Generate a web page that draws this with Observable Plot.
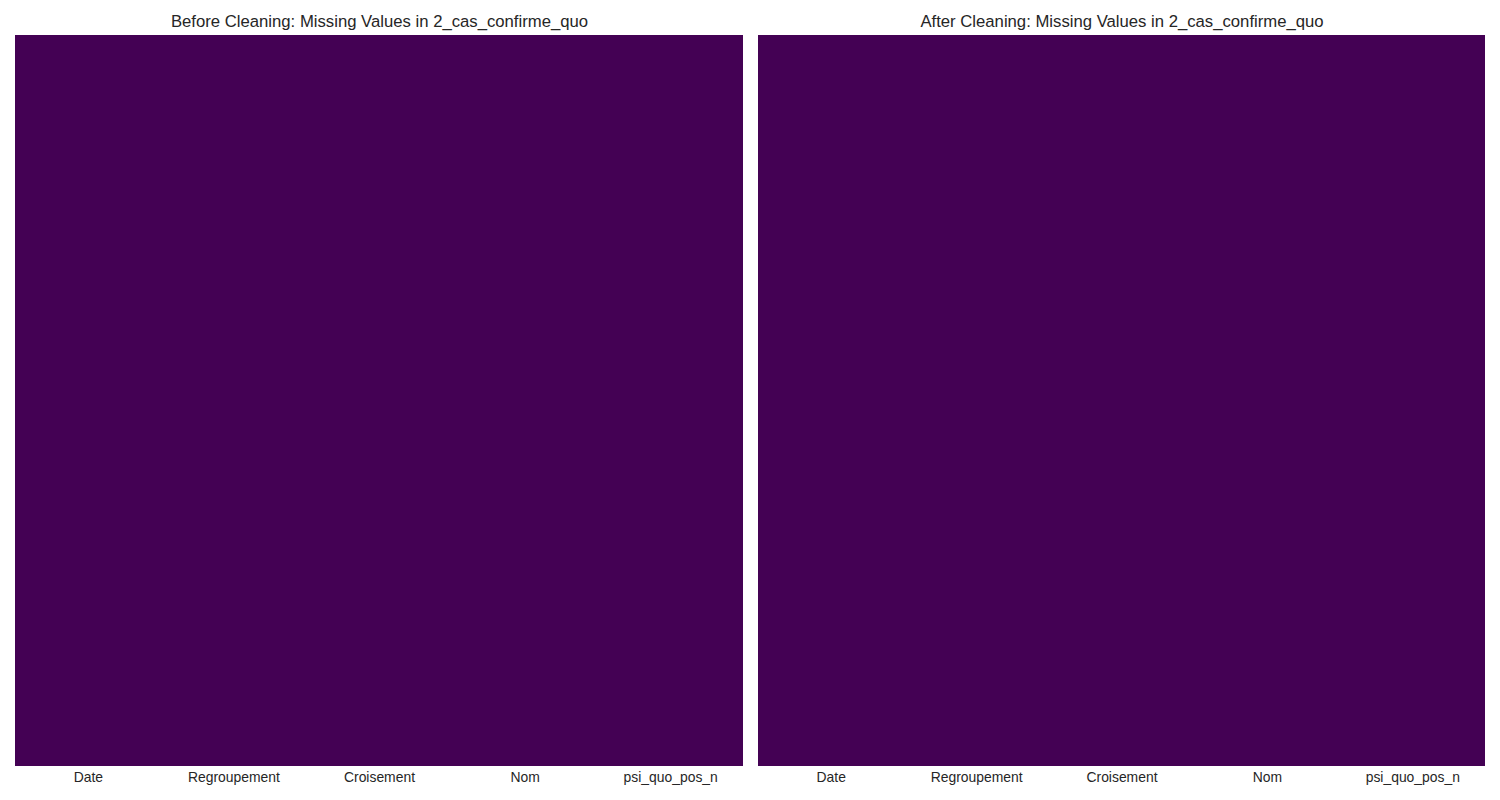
<!DOCTYPE html>
<html>
<head>
<meta charset="utf-8">
<script src="https://cdn.jsdelivr.net/npm/d3@7"></script>
<script src="https://cdn.jsdelivr.net/npm/@observablehq/plot@0.6"></script>
<style>
  html, body { margin: 0; padding: 0; background: #ffffff; }
  #wrap { position: relative; width: 1500px; height: 800px; }
  #wrap svg { position: absolute; top: 0; }
</style>
</head>
<body>
<div id="wrap"></div>
<script>
const columns = ["Date", "Regroupement", "Croisement", "Nom", "psi_quo_pos_n"];
const missingBefore = [0, 0, 0, 0, 0];
const missingAfter = [0, 0, 0, 0, 0];
const titles = [
  "Before Cleaning: Missing Values in 2_cas_confirme_quo",
  "After Cleaning: Missing Values in 2_cas_confirme_quo"
];

const font = "'Liberation Sans', Arial, sans-serif";

function panel(values, title, width, mLeft, mRight) {
  const data = columns.map((c, i) => ({column: c, missing: values[i]}));
  return Plot.plot({
    width, height: 800,
    marginLeft: mLeft, marginRight: mRight, marginTop: 35, marginBottom: 34,
    style: {fontFamily: font, fontSize: "13.9px", color: "#262626", background: "#ffffff"},
    x: {domain: columns, padding: 0, round: false, tickSize: 0, tickPadding: 6, label: null},
    y: {axis: null},
    color: {type: "sequential", scheme: "viridis", domain: [0, 1]},
    marks: [
      Plot.cell(data, {x: "column", fill: "missing", inset: 0, shapeRendering: "crispEdges"}),
      Plot.text([title], {frameAnchor: "top", lineAnchor: "middle", dy: -14, text: d => d, fontSize: 16.7, fill: "#262626"})
    ]
  });
}

const wrap = document.getElementById("wrap");
const p1 = panel(missingBefore, titles[0], 743, 15, 0);
p1.style.left = "0px";
const p2 = panel(missingAfter, titles[1], 757, 15, 15);
p2.style.left = "743px";
wrap.appendChild(p1);
wrap.appendChild(p2);
</script>
</body>
</html>
